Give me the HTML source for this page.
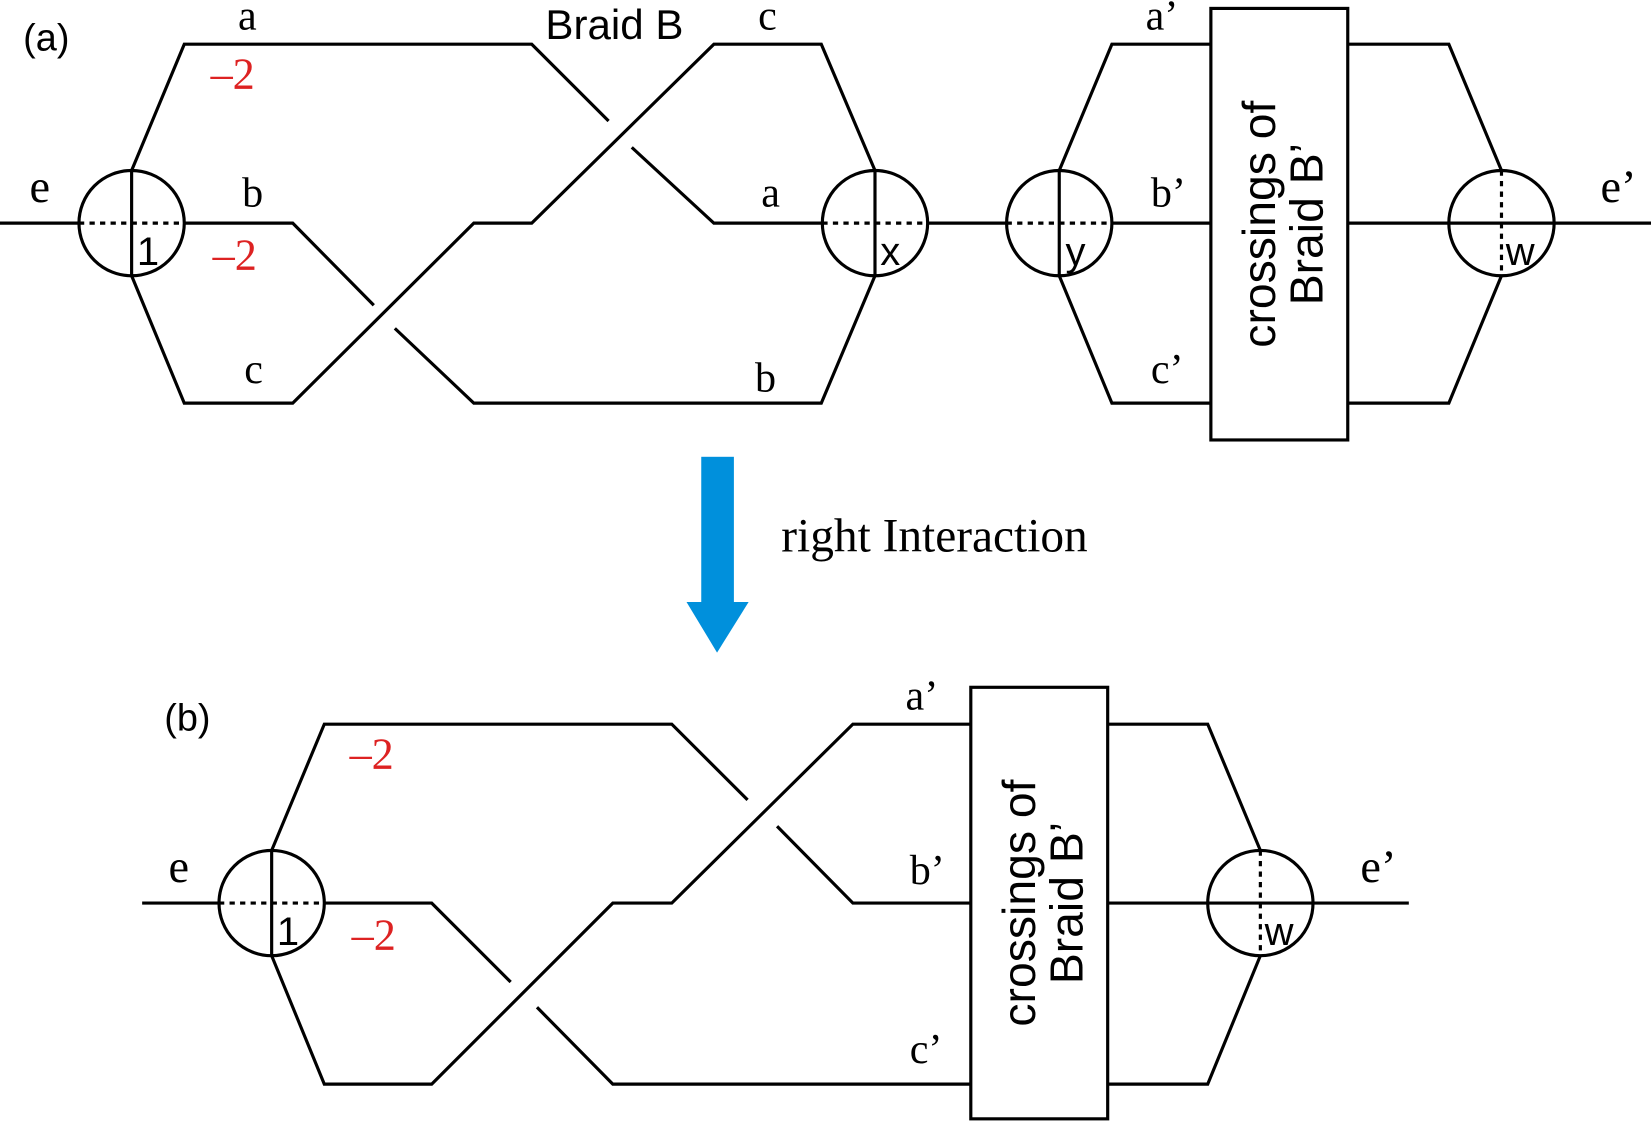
<!DOCTYPE html>
<html><head><meta charset="utf-8"><style>
html,body{margin:0;padding:0;background:#fff;width:1651px;height:1122px;overflow:hidden}
svg{display:block}
.s{font-family:"Liberation Serif",serif}
.a{font-family:"Liberation Sans",sans-serif}
.r{font-family:"Liberation Serif","DejaVu Serif",serif;fill:#d22;font-size:42px}
</style></head><body>
<svg width="1651" height="1122" viewBox="0 0 1568 1066" preserveAspectRatio="none">
<g fill="none" stroke="#000" stroke-width="3">
<line x1="0" y1="212" x2="75" y2="212"/>
<circle cx="125" cy="212" r="50"/>
<line x1="125" y1="162" x2="125" y2="262"/>
<line x1="75" y1="212" x2="175" y2="212" stroke-dasharray="5,5"/>
<polyline points="125,162 175,42 505,42 578,115"/>
<polyline points="600,140 678,212 781,212"/>
<polyline points="175,212 278,212 355,290"/>
<polyline points="375,312 450,383 780,383 831,262"/>
<polyline points="125,262 175,383 278,383 450,212 505,212 678,42 780,42 831,162"/>
<circle cx="831" cy="212" r="50"/>
<line x1="831" y1="162" x2="831" y2="262"/>
<line x1="781" y1="212" x2="881" y2="212" stroke-dasharray="5,5"/>
<line x1="881" y1="212" x2="956" y2="212"/>
<circle cx="1006" cy="212" r="50"/>
<line x1="1006" y1="162" x2="1006" y2="262"/>
<line x1="956" y1="212" x2="1056" y2="212" stroke-dasharray="5,5"/>
<polyline points="1006,162 1056,42 1150,42"/>
<line x1="1056" y1="212" x2="1150" y2="212"/>
<polyline points="1006,262 1056,383 1150,383"/>
<rect x="1150" y="8" width="130" height="410"/>
<polyline points="1280,42 1376,42 1426,162"/>
<line x1="1280" y1="212" x2="1376" y2="212"/>
<polyline points="1280,383 1376,383 1426,262"/>
<circle cx="1426" cy="212" r="50"/>
<line x1="1376" y1="212" x2="1476" y2="212"/>
<line x1="1426" y1="162" x2="1426" y2="262" stroke-dasharray="5,5"/>
<line x1="1476" y1="212" x2="1568" y2="212"/>
<line x1="135" y1="858" x2="208" y2="858"/>
<circle cx="258" cy="858" r="50"/>
<line x1="258" y1="808" x2="258" y2="908"/>
<line x1="208" y1="858" x2="308" y2="858" stroke-dasharray="5,5"/>
<polyline points="258,808 308,688 638,688 710,760"/>
<polyline points="738,785 810,858 922,858"/>
<polyline points="308,858 410,858 485,933"/>
<polyline points="510,957 582,1030 922,1030"/>
<polyline points="258,908 308,1030 410,1030 582,858 638,858 810,688 922,688"/>
<rect x="922" y="653" width="130" height="410"/>
<polyline points="1052,688 1147,688 1197,808"/>
<line x1="1052" y1="858" x2="1147" y2="858"/>
<polyline points="1052,1030 1147,1030 1197,908"/>
<circle cx="1197" cy="858" r="50"/>
<line x1="1147" y1="858" x2="1247" y2="858"/>
<line x1="1197" y1="808" x2="1197" y2="908" stroke-dasharray="5,5"/>
<line x1="1247" y1="858" x2="1338" y2="858"/>
</g>
<rect x="666" y="434" width="31" height="140" fill="#0090dc"/>
<polygon points="652,572 711,572 681,620" fill="#0090dc"/>
<g font-size="40">
<text class="a" x="22" y="48" font-size="36">(a)</text>
<text class="a" x="518" y="37" font-size="40">Braid B</text>
<text class="s" x="226" y="28">a</text>
<text class="s" x="720" y="28">c</text>
<text class="s" x="28" y="192" font-size="44">e</text>
<text class="s" x="230" y="196">b</text>
<text class="s" x="723" y="196">a</text>
<text class="s" x="232" y="364">c</text>
<text class="s" x="717" y="372">b</text>
<text class="a" x="130" y="252" font-size="38">1</text>
<text class="a" x="836" y="252" font-size="38">x</text>
<text class="a" x="1012" y="252" font-size="38">y</text>
<text class="a" x="1430" y="252" font-size="38">w</text>
<text class="s" x="1088" y="28">a’</text>
<text class="s" x="1093" y="196">b’</text>
<text class="s" x="1093" y="364">c’</text>
<text class="s" x="1520" y="192" font-size="44">e’</text>
<text class="r" x="200" y="84">–2</text>
<text class="r" x="202" y="256">–2</text>
<text class="s" x="742" y="524" font-size="45">right Interaction</text>
<text class="a" x="156" y="694" font-size="36">(b)</text>
<text class="r" x="332" y="730">–2</text>
<text class="r" x="334" y="902">–2</text>
<text class="s" x="160" y="838" font-size="44">e</text>
<text class="a" x="263" y="898" font-size="38">1</text>
<text class="a" x="1201" y="898" font-size="38">w</text>
<text class="s" x="860" y="674">a’</text>
<text class="s" x="864" y="840">b’</text>
<text class="s" x="864" y="1010">c’</text>
<text class="s" x="1292" y="838" font-size="44">e’</text>
<g class="a" font-size="44" text-anchor="middle">
<text transform="translate(1211,213) rotate(-90)">crossings of</text>
<text transform="translate(1256,213) rotate(-90)">Braid B’</text>
<text transform="translate(983,858) rotate(-90)">crossings of</text>
<text transform="translate(1028,858) rotate(-90)">Braid B’</text>
</g>
</g>
</svg>
</body></html>
